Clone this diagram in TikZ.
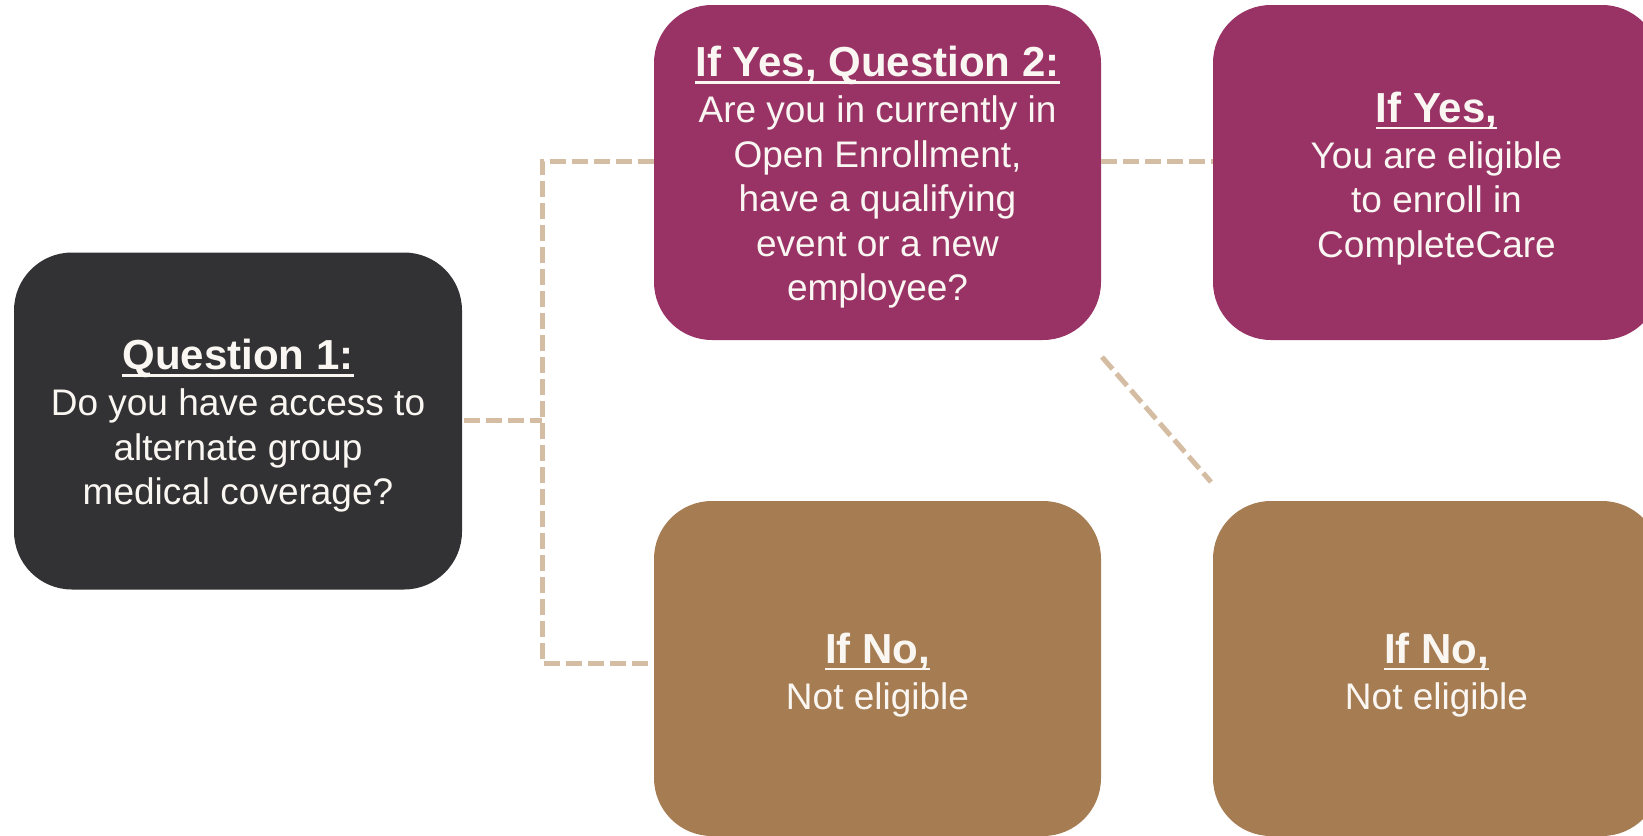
\documentclass[tikz,border=0pt]{standalone}
\usepackage{fontspec}
\setmainfont{Liberation Sans}
\definecolor{darkq}{HTML}{323234}
\definecolor{plum}{HTML}{993366}
\definecolor{tan}{HTML}{A67C52}
\definecolor{dashc}{HTML}{D5BDA3}
\definecolor{txt}{HTML}{FAF6F2}
\newcommand{\ulx}[1]{\setbox0\hbox{#1}\rlap{\rule[-7pt]{\wd0}{2.8pt}}\box0}
\tikzset{
  box/.style={rounded corners=58pt, minimum width=447pt, minimum height=335pt, inner sep=0pt},
  qbox/.style={box, fill=darkq, minimum width=448pt, minimum height=337pt},
  pbox/.style={box, fill=plum},
  bbox/.style={box, fill=tan},
  lbl/.style={text=txt, align=center, inner sep=0pt, font=\fontsize{37}{44.5}\selectfont},
  conn/.style={draw=dashc, line width=5pt, dash pattern=on 16pt off 6pt},
}
\newcommand{\ttl}[1]{{\fontsize{42}{48}\selectfont\bfseries\ulx{#1}}\\[1.5pt]}
\begin{document}
\begin{tikzpicture}[x=1pt,y=-1pt]
\useasboundingbox (0,0) rectangle (1643,835);
\clip (0,0) rectangle (1643,835);
\fill[white] (0,0) rectangle (1643,835);
\node[qbox] (q1) at (238,421) {};
\node[pbox] (q2) at (877.5,172.5) {};
\node[pbox] (yes) at (1436.5,172.5) {};
\node[bbox] (no1) at (877.5,668.5) {};
\node[bbox] (no2) at (1436.5,668.5) {};
\node[lbl] (q1t) at ([yshift=-5pt]q1.center) {\ttl{Question 1:}Do you have access to\\alternate group\\medical coverage?};
\node[lbl] (q2t) at ([yshift=-5pt]q2.center) {\ttl{If Yes, Question 2:}Are you in currently in\\Open Enrollment,\\have a qualifying\\event or a new\\employee?};
\node[lbl] (yest) at ([yshift=-6pt]yes.center) {\ttl{If Yes,}You are eligible\\to enroll in\\CompleteCare};
\node[lbl] (no1t) at ([yshift=-6.5pt]no1.center) {\ttl{If No,}Not eligible};
\node[lbl] (no2t) at ([yshift=-6.5pt]no2.center) {\ttl{If No,}Not eligible};
\coordinate (jm) at (542,420);
\coordinate (jt) at (542,161);
\coordinate (jb) at (542,663);
\coordinate (d1) at (1102,357);
\coordinate (d2) at (1211,482);
\draw[conn] ([xshift=2pt]q1.east |- jm) -- (jm);
\draw[conn] (q2.west |- jt) -- (jt) -- (jb) -- (no1.west |- jb);
\draw[conn] (q2.east |- jt) -- (yes.west |- jt);
\draw[conn] (d1) -- (d2);
\end{tikzpicture}
\end{document}
